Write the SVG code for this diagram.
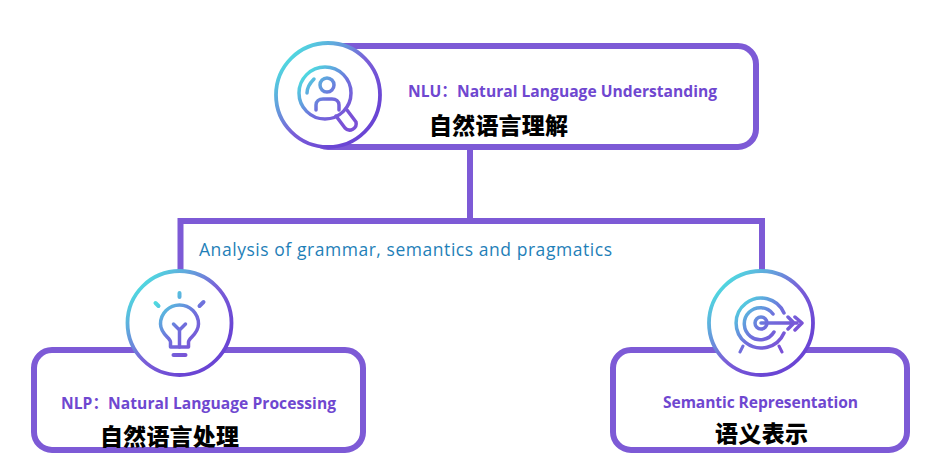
<svg xmlns="http://www.w3.org/2000/svg" width="941" height="476" viewBox="0 0 941 476">
<defs>
<linearGradient id="g" x1="0.05" y1="0.2" x2="0.7" y2="0.85">
<stop offset="0" stop-color="#4fdae0"/><stop offset="0.6" stop-color="#7a5fd8"/><stop offset="1" stop-color="#6a45d4"/>
</linearGradient>
<linearGradient id="gi" gradientUnits="userSpaceOnUse" x1="-24" y1="-20" x2="20" y2="24">
<stop offset="0" stop-color="#4fdae0"/><stop offset="0.55" stop-color="#6f6fdc"/><stop offset="1" stop-color="#7a50d6"/>
</linearGradient>
<style>
.box{fill:#fff;stroke:#7d5ad6;stroke-width:6}
.ring{fill:#fff;stroke:url(#g);stroke-width:3.800}
.ic{fill:none;stroke:url(#gi);stroke-width:3.500;stroke-linecap:round;stroke-linejoin:round}
.en{font-family:"Open Sans","Noto Sans","Noto Sans CJK SC",sans-serif;font-weight:700;font-size:15.600px;fill:#6f47d0}
.cn{font-family:"Noto Sans CJK SC",sans-serif;font-weight:900;font-size:23px;fill:#000}
.an{font-family:"Open Sans","Noto Sans",sans-serif;font-size:17.500px;fill:#1f7fb8}
.line{fill:none;stroke:#7d5ad6;stroke-width:6}
</style>
</defs>
<rect width="941" height="476" fill="#fff"/>
<g id="connectors">
<path class="line" d="M470 147V221M180.500 272V221H762V272"/>
</g>
<text class="an" x="199" y="256" textLength="413">Analysis of grammar, semantics and pragmatics</text>
<g id="nlu">
<rect class="box" x="310" y="46" width="446" height="101" rx="18"/>
<circle class="ring" cx="328" cy="95" r="52"/>
<g transform="translate(328 95)">
<circle class="ic" cx="-3" cy="-2" r="26"/>
<circle class="ic" cx="-1" cy="-10" r="7"/>
<path class="ic" d="M-12 15V10C-12 6 -9 4 -5 4H4C8 4 11 6 11 10V15"/>
<path class="ic" d="M-21 -2C-21 -8 -18 -12 -14 -16"/>
<path class="ic" d="M8 21L17 33A6.500 6.500 0 0 0 28 27L19 15"/>
</g>
<text class="en" x="408" y="97" textLength="309">NLU：Natural Language Understanding</text>
<text class="cn" x="429" y="134" textLength="139">自然语言理解</text>
</g>
<g id="nlp">
<rect class="box" x="34" y="350" width="329" height="100" rx="18"/>
<circle class="ring" cx="179.500" cy="323" r="52"/>
<g transform="translate(179.500 323)">
<path class="ic" d="M-9 24V19C-9 15 -19 11 -19 1A19 19 0 0 1 19 1C19 11 9 15 9 19V24Z"/>
<path class="ic" d="M0 24V7M-6 1L0 7L6 1"/>
<path class="ic" d="M-6 32H6" style="stroke-width:4"/>
<path class="ic" d="M0 -30V-26M-24 -20L-21 -17M24 -21L20 -17" style="stroke-width:4"/>
</g>
<text class="en" x="61" y="409" textLength="275">NLP：Natural Language Processing</text>
<text class="cn" x="100" y="445" textLength="139">自然语言处理</text>
</g>
<g id="sem">
<rect class="box" x="613" y="350" width="294" height="100" rx="18"/>
<circle class="ring" cx="761" cy="323" r="52"/>
<g transform="translate(761 323)">
<path class="ic" d="M23 -10A25 25 0 1 0 23 10"/>
<path class="ic" d="M12 -9A16 16 0 1 0 13 9"/>
<circle class="ic" cx="0" cy="0" r="6"/>
<path class="ic" d="M0 0H36M27 -6L33 0L27 6M34 -6L41 0L34 7"/>
<path class="ic" d="M-21 29L-18 23M21 29L18 23" style="stroke-width:3"/>
</g>
<text class="en" x="663" y="408" textLength="195">Semantic Representation</text>
<text class="cn" x="715" y="442" textLength="93">语义表示</text>
</g>
</svg>
